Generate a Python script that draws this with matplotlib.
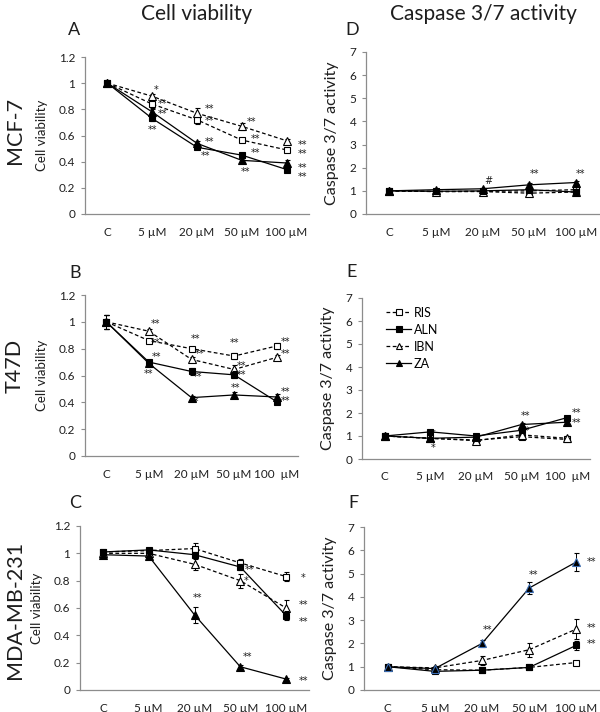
import matplotlib
matplotlib.use("Agg")
import matplotlib.pyplot as plt
from matplotlib.lines import Line2D

plt.rcParams['font.family'] = ['Lato', 'DejaVu Sans']

categories = ['C', '5 µM', '20 µM', '50 µM', '100 µM']
series_names = ['RIS', 'ALN', 'IBN', 'ZA']

# ---- Cell viability ----
A_RIS = [1.00, 0.84, 0.72, 0.565, 0.49]
A_ALN = [1.00, 0.73, 0.51, 0.45, 0.34]
A_IBN = [1.00, 0.90, 0.77, 0.67, 0.56]
A_ZA  = [1.00, 0.78, 0.54, 0.41, 0.39]
A_RIS_err = [0.02, 0.03, 0.03, 0.015, 0.015]
A_ALN_err = [0.02, 0.02, 0.015, 0.02, 0.015]
A_IBN_err = [0.02, 0.02, 0.04, 0.025, 0.015]
A_ZA_err  = [0.02, 0.02, 0.02, 0.02, 0.02]

B_RIS = [1.00, 0.86, 0.80, 0.745, 0.82]
B_ALN = [1.00, 0.70, 0.63, 0.605, 0.405]
B_IBN = [1.00, 0.93, 0.72, 0.645, 0.735]
B_ZA  = [1.00, 0.69, 0.435, 0.455, 0.44]
B_RIS_err = [0.05, 0.01, 0.015, 0.02, 0.025]
B_ALN_err = [0.05, 0.015, 0.025, 0.025, 0.02]
B_IBN_err = [0.05, 0.015, 0.02, 0.03, 0.015]
B_ZA_err  = [0.05, 0.015, 0.015, 0.02, 0.02]

C_RIS = [1.01, 1.02, 1.035, 0.93, 0.83]
C_ALN = [1.01, 1.025, 0.99, 0.90, 0.545]
C_IBN = [1.00, 1.00, 0.92, 0.80, 0.60]
C_ZA  = [0.99, 0.98, 0.55, 0.17, 0.08]
C_RIS_err = [0.015, 0.01, 0.04, 0.025, 0.03]
C_ALN_err = [0.015, 0.01, 0.015, 0.02, 0.03]
C_IBN_err = [0.015, 0.015, 0.04, 0.05, 0.06]
C_ZA_err  = [0.015, 0.015, 0.06, 0.015, 0.01]

# ---- Caspase 3/7 activity ----
D_RIS = [1.00, 0.97, 0.98, 1.00, 1.05]
D_ALN = [1.00, 0.98, 1.00, 1.05, 0.95]
D_IBN = [1.00, 0.97, 0.97, 0.90, 0.95]
D_ZA  = [1.00, 1.05, 1.09, 1.26, 1.36]
D_err = [0.05, 0.05, 0.05, 0.08, 0.08]

E_RIS = [1.00, 0.90, 0.82, 0.97, 0.85]
E_ALN = [1.00, 1.18, 1.00, 1.25, 1.80]
E_IBN = [1.00, 0.90, 0.80, 1.05, 0.90]
E_ZA  = [1.00, 0.90, 0.95, 1.50, 1.60]
E_err = [0.05, 0.06, 0.05, 0.08, 0.08]

F_RIS = [1.00, 0.87, 0.85, 0.97, 1.18]
F_ALN = [1.00, 0.80, 0.85, 0.97, 1.92]
F_IBN = [1.00, 0.95, 1.27, 1.73, 2.62]
F_ZA  = [1.00, 0.92, 2.00, 4.38, 5.50]
F_RIS_err = [0.05, 0.05, 0.04, 0.04, 0.06]
F_ALN_err = [0.05, 0.05, 0.04, 0.05, 0.2]
F_IBN_err = [0.05, 0.06, 0.2, 0.3, 0.45]
F_ZA_err  = [0.05, 0.06, 0.15, 0.25, 0.4]

# significance marks: (category position, y, text)
A_marks = [(1.08, 0.95, '*'), (1.24, 0.84, '**'), (1.24, 0.765, '**'), (1.0, 0.64, '**'),
           (2.27, 0.80, '**'), (2.27, 0.71, '**'), (2.27, 0.55, '**'), (2.2, 0.44, '**'),
           (3.21, 0.70, '**'), (3.3, 0.57, '**'), (3.3, 0.47, '**'), (3.08, 0.32, '**'),
           (4.36, 0.53, '**'), (4.36, 0.46, '**'), (4.36, 0.35, '**'), (4.36, 0.28, '**')]
B_marks = [(1.15, 0.985, '**'), (1.15, 0.84, '**'), (1.17, 0.74, '**'), (0.99, 0.61, '**'),
           (2.1, 0.87, '**'), (2.18, 0.76, '**'), (2.13, 0.59, '**'), (2.07, 0.40, '**'),
           (3.0, 0.84, '**'), (3.17, 0.67, '**'), (3.17, 0.605, '**'), (3.04, 0.51, '**'),
           (4.2, 0.85, '**'), (4.2, 0.76, '**'), (4.2, 0.48, '**'), (4.2, 0.41, '**')]
C_marks = [(2.07, 0.67, '**'), (3.21, 0.88, '**'), (3.12, 0.80, '*'), (3.15, 0.24, '**'),
           (4.38, 0.82, '*'), (4.38, 0.62, '**'), (4.38, 0.50, '**'), (4.38, 0.066, '**')]
D_marks = [(2.12, 1.43, '#'), (3.12, 1.73, '**'), (4.1, 1.73, '**')]
E_marks = [(1.05, 1.09, '*'), (1.05, 0.48, '*'), (3.08, 1.87, '**'), (3.08, 1.22, '**'),
           (4.2, 2.0, '**'), (4.2, 1.58, '**')]
F_marks = [(2.12, 2.57, '**'), (3.1, 4.93, '**'), (4.32, 5.5, '**'), (4.32, 2.66, '**'),
           (4.32, 1.97, '**')]

W, H = 600, 712
fig = plt.figure(figsize=(W / 100, H / 100), dpi=100)

SP = '#8c8c8c'
TXT = '#1e1e1e'

def add_ax(l, r, t, b):
    return fig.add_axes([l / W, 1 - b / H, (r - l) / W, (b - t) / H])

styles = {
    'RIS': dict(ls=(0, (3, 2)), marker='s', mfc='white'),
    'ALN': dict(ls='-', marker='s', mfc='black'),
    'IBN': dict(ls=(0, (3, 2)), marker='^', mfc='white'),
    'ZA':  dict(ls='-', marker='^', mfc='black'),
}

def draw(ax, data, errs, ymax, yticks, ylabel, ylab_off, fs_ylab, marks, xlabels, za_edge='black'):
    x = list(range(len(categories)))
    for name, vals, err in zip(series_names, data, errs):
        st = styles[name]
        mec = za_edge if name == 'ZA' else 'black'
        ax.errorbar(x, vals, yerr=err, color='black', lw=0.9, ls=st['ls'],
                    marker=st['marker'], ms=5.2 if st['marker'] == '^' else 4.6,
                    mfc=st['mfc'], mec=mec, mew=0.8,
                    ecolor='black', elinewidth=0.7, capsize=1.8, capthick=0.7,
                    zorder=3 if st['mfc'] == 'black' else 2)
    ax.set_xlim(-0.5, 4.5)
    ax.set_ylim(0, ymax)
    ax.set_yticks(yticks)
    ax.set_yticklabels([('%g' % v) for v in yticks])
    ax.set_xticks(x)
    ax.set_xticklabels(xlabels)
    for s in ['top', 'right']:
        ax.spines[s].set_visible(False)
    for s in ['left', 'bottom']:
        ax.spines[s].set_color(SP)
        ax.spines[s].set_linewidth(0.9)
    ax.tick_params(axis='y', length=3, width=0.8, color=SP, labelsize=8.5, labelcolor=TXT, pad=4)
    ax.tick_params(axis='x', length=0, labelsize=8.5, labelcolor=TXT, pad=9)
    ax.set_ylabel(ylabel, fontsize=fs_ylab, color=TXT)
    ax.yaxis.set_label_coords(ylab_off, 0.5)
    for mx, my, txt in marks:
        ax.text(mx, my, txt, fontsize=7, color=TXT, ha='center', va='center',
                family='DejaVu Sans')

vticks = [0, 0.2, 0.4, 0.6, 0.8, 1, 1.2]
cticks = [0, 1, 2, 3, 4, 5, 6, 7]

axA = add_ax(85, 309, 57, 214)
draw(axA, [A_RIS, A_ALN, A_IBN, A_ZA], [A_RIS_err, A_ALN_err, A_IBN_err, A_ZA_err],
     1.2, vticks, 'Cell viability', -37 / 224, 9.5, A_marks, categories)
axB = add_ax(85, 298, 295, 456)
draw(axB, [B_RIS, B_ALN, B_IBN, B_ZA], [B_RIS_err, B_ALN_err, B_IBN_err, B_ZA_err],
     1.2, vticks, 'Cell viability', -37 / 213, 9.5, B_marks,
     ['C', '5 µM', '20 µM', '50 µM', '100  µM'])
axC = add_ax(80, 309, 526, 690)
draw(axC, [C_RIS, C_ALN, C_IBN, C_ZA], [C_RIS_err, C_ALN_err, C_IBN_err, C_ZA_err],
     1.2, vticks, 'Cell viability', -37 / 229, 9.5, C_marks, categories)

axD = add_ax(366, 599, 52, 214)
draw(axD, [D_RIS, D_ALN, D_IBN, D_ZA], [D_err] * 4,
     7, cticks, 'Caspase 3/7 activity', -27 / 233, 11.5, D_marks, categories)
axE = add_ax(362, 590, 298, 459)
draw(axE, [E_RIS, E_ALN, E_IBN, E_ZA], [E_err] * 4,
     7, cticks, 'Caspase 3/7 activity', -27 / 228, 11.5, E_marks,
     ['C', '5 µM', '20 µM', '50 µM', '100  µM'])
axF = add_ax(364, 600, 527, 690)
draw(axF, [F_RIS, F_ALN, F_IBN, F_ZA], [F_RIS_err, F_ALN_err, F_IBN_err, F_ZA_err],
     7, cticks, 'Caspase 3/7 activity', -27 / 236, 11.5, F_marks, categories,
     za_edge='#3b6db3')

# legend in E
handles = []
for name in series_names:
    st = styles[name]
    handles.append(Line2D([0], [0], color='black', lw=0.9, ls=st['ls'], marker=st['marker'],
                          ms=4.2, mfc=st['mfc'], mec='black', mew=0.8))
axE.legend(handles, series_names, loc='upper left', bbox_to_anchor=(0.08, 0.985),
           frameon=False, fontsize=9, handlelength=2.0, handletextpad=0.2,
           labelspacing=0.4, borderpad=0)

# titles and labels
fig.text(197 / W, 1 - 14 / H, 'Cell viability', fontsize=15, ha='center', va='center', color=TXT)
fig.text(483 / W, 1 - 14 / H, 'Caspase 3/7 activity', fontsize=15, ha='center', va='center', color=TXT)
for lbl, px, py in [('A', 74, 30), ('B', 75, 273), ('C', 75, 503),
                    ('D', 352, 30), ('E', 352, 272), ('F', 353, 503)]:
    fig.text(px / W, 1 - py / H, lbl, fontsize=13, ha='center', va='center', color=TXT)
for lbl, py in [('MCF-7', 130), ('T47D', 366), ('MDA-MB-231', 610)]:
    fig.text(15 / W, 1 - py / H, lbl, fontsize=15.5, rotation=90, ha='center', va='center', color=TXT)

fig.savefig('out.png', dpi=100)
